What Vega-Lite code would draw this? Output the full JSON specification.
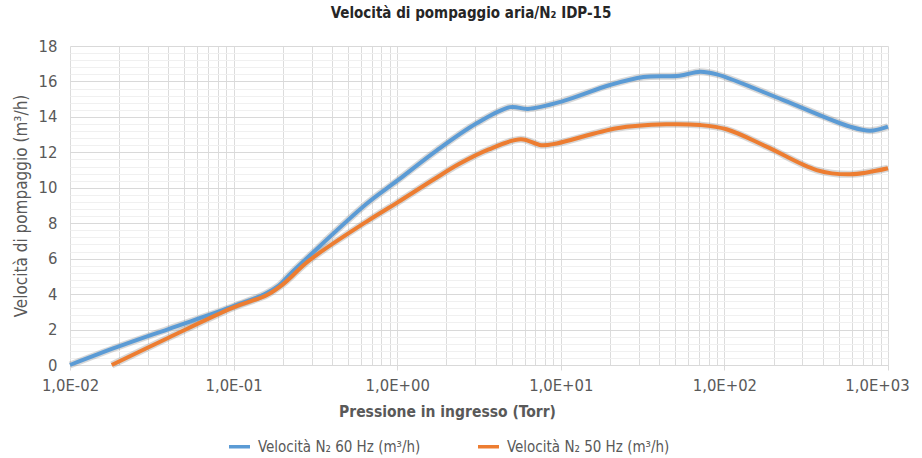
{
  "$schema": "https://vega.github.io/schema/vega-lite/v6.json",
  "width": 818,
  "height": 319,
  "autosize": {"type": "none"},
  "padding": {"left": 70, "top": 46, "right": 34, "bottom": 93},
  "background": "white",
  "config": {
    "font": "DejaVu Sans Condensed, Roboto, sans-serif",
    "view": {"stroke": null}
  },
  "title": {
    "text": "Velocità di pompaggio aria/N₂ IDP-15",
    "font": "DejaVu Sans Condensed, Roboto, sans-serif",
    "fontSize": 15,
    "fontWeight": "bold",
    "color": "#262626",
    "offset": 17,
    "dx": -8
  },
  "data": {
    "values": [
      {"serie": "Velocità N₂ 60 Hz (m³/h)", "pressione": 0.01, "velocita": 0},
      {"serie": "Velocità N₂ 60 Hz (m³/h)", "pressione": 0.0197, "velocita": 1.03},
      {"serie": "Velocità N₂ 60 Hz (m³/h)", "pressione": 0.04, "velocita": 2.03},
      {"serie": "Velocità N₂ 60 Hz (m³/h)", "pressione": 0.1, "velocita": 3.32},
      {"serie": "Velocità N₂ 60 Hz (m³/h)", "pressione": 0.155, "velocita": 4.0},
      {"serie": "Velocità N₂ 60 Hz (m³/h)", "pressione": 0.19, "velocita": 4.5},
      {"serie": "Velocità N₂ 60 Hz (m³/h)", "pressione": 0.22, "velocita": 5.1},
      {"serie": "Velocità N₂ 60 Hz (m³/h)", "pressione": 0.29, "velocita": 6.15},
      {"serie": "Velocità N₂ 60 Hz (m³/h)", "pressione": 0.65, "velocita": 9.1},
      {"serie": "Velocità N₂ 60 Hz (m³/h)", "pressione": 1.0, "velocita": 10.4},
      {"serie": "Velocità N₂ 60 Hz (m³/h)", "pressione": 1.74, "velocita": 12.1},
      {"serie": "Velocità N₂ 60 Hz (m³/h)", "pressione": 3.06, "velocita": 13.64},
      {"serie": "Velocità N₂ 60 Hz (m³/h)", "pressione": 4.9, "velocita": 14.55},
      {"serie": "Velocità N₂ 60 Hz (m³/h)", "pressione": 6.3, "velocita": 14.45},
      {"serie": "Velocità N₂ 60 Hz (m³/h)", "pressione": 10, "velocita": 14.85},
      {"serie": "Velocità N₂ 60 Hz (m³/h)", "pressione": 20, "velocita": 15.8},
      {"serie": "Velocità N₂ 60 Hz (m³/h)", "pressione": 32, "velocita": 16.25},
      {"serie": "Velocità N₂ 60 Hz (m³/h)", "pressione": 53, "velocita": 16.32},
      {"serie": "Velocità N₂ 60 Hz (m³/h)", "pressione": 71, "velocita": 16.55},
      {"serie": "Velocità N₂ 60 Hz (m³/h)", "pressione": 90, "velocita": 16.4},
      {"serie": "Velocità N₂ 60 Hz (m³/h)", "pressione": 229, "velocita": 14.95},
      {"serie": "Velocità N₂ 60 Hz (m³/h)", "pressione": 586, "velocita": 13.45},
      {"serie": "Velocità N₂ 60 Hz (m³/h)", "pressione": 777, "velocita": 13.22},
      {"serie": "Velocità N₂ 60 Hz (m³/h)", "pressione": 1000, "velocita": 13.45},
      {"serie": "Velocità N₂ 50 Hz (m³/h)", "pressione": 0.018, "velocita": 0},
      {"serie": "Velocità N₂ 50 Hz (m³/h)", "pressione": 0.04, "velocita": 1.54},
      {"serie": "Velocità N₂ 50 Hz (m³/h)", "pressione": 0.1, "velocita": 3.25},
      {"serie": "Velocità N₂ 50 Hz (m³/h)", "pressione": 0.16, "velocita": 3.95},
      {"serie": "Velocità N₂ 50 Hz (m³/h)", "pressione": 0.2, "velocita": 4.55},
      {"serie": "Velocità N₂ 50 Hz (m³/h)", "pressione": 0.29, "velocita": 5.9},
      {"serie": "Velocità N₂ 50 Hz (m³/h)", "pressione": 0.65, "velocita": 8.09},
      {"serie": "Velocità N₂ 50 Hz (m³/h)", "pressione": 1.0, "velocita": 9.16},
      {"serie": "Velocità N₂ 50 Hz (m³/h)", "pressione": 1.66, "velocita": 10.45},
      {"serie": "Velocità N₂ 50 Hz (m³/h)", "pressione": 2.4, "velocita": 11.35},
      {"serie": "Velocità N₂ 50 Hz (m³/h)", "pressione": 3.6, "velocita": 12.15},
      {"serie": "Velocità N₂ 50 Hz (m³/h)", "pressione": 5.7, "velocita": 12.74},
      {"serie": "Velocità N₂ 50 Hz (m³/h)", "pressione": 7.6, "velocita": 12.4},
      {"serie": "Velocità N₂ 50 Hz (m³/h)", "pressione": 9.44, "velocita": 12.5},
      {"serie": "Velocità N₂ 50 Hz (m³/h)", "pressione": 22, "velocita": 13.36},
      {"serie": "Velocità N₂ 50 Hz (m³/h)", "pressione": 44, "velocita": 13.58},
      {"serie": "Velocità N₂ 50 Hz (m³/h)", "pressione": 71, "velocita": 13.54},
      {"serie": "Velocità N₂ 50 Hz (m³/h)", "pressione": 103, "velocita": 13.3},
      {"serie": "Velocità N₂ 50 Hz (m³/h)", "pressione": 181, "velocita": 12.32},
      {"serie": "Velocità N₂ 50 Hz (m³/h)", "pressione": 366, "velocita": 11.0},
      {"serie": "Velocità N₂ 50 Hz (m³/h)", "pressione": 586, "velocita": 10.76},
      {"serie": "Velocità N₂ 50 Hz (m³/h)", "pressione": 1000, "velocita": 11.1}
    ]
  },
  "encoding": {
    "x": {
      "field": "pressione",
      "type": "quantitative",
      "scale": {"type": "log", "domain": [0.01, 1000], "nice": false},
      "axis": {
        "title": "Pressione in ingresso (Torr)",
        "titleFontSize": 15.5,
        "titleFontWeight": "bold",
        "titleColor": "#595959",
        "titleX": 377,
        "titleY": 51,
        "titleBaseline": "alphabetic",
        "titleAnchor": null,
        "values": [0.01,0.02,0.03,0.04,0.05,0.06,0.07,0.08,0.09,0.1,0.2,0.3,0.4,0.5,0.6,0.7,0.8,0.9,1,2,3,4,5,6,7,8,9,10,20,30,40,50,60,70,80,90,100,200,300,400,500,600,700,800,900,1000],
        "labelExpr": "abs(log(datum.value)/LN10 - round(log(datum.value)/LN10)) < 0.001 ? '1,0E' + (round(log(datum.value)/LN10) < 0 ? '-' : '+') + '0' + abs(round(log(datum.value)/LN10)) : ''",
        "labelOverlap": false,
        "labelFlush": false,
        "labelFontSize": 16.5,
        "labelColor": "#595959",
        "labelPadding": 7,
        "labelOffset": {"condition": {"test": "datum.value > 500", "value": -11}, "value": 0},
        "tickSize": 5,
        "tickColor": {"condition": {"test": "abs(log(datum.value)/LN10 - round(log(datum.value)/LN10)) < 0.001", "value": "#d9d9d9"}, "value": "transparent"},
        "domainColor": "#d9d9d9",
        "grid": true,
        "gridColor": "#dcdcdc",
        "gridWidth": 1
      }
    },
    "y": {
      "field": "velocita",
      "type": "quantitative",
      "scale": {"domain": [0, 18], "nice": false},
      "axis": {
        "title": "Velocità di pompaggio (m³/h)",
        "titleFontSize": 17,
        "titleFontWeight": "normal",
        "titleColor": "#595959",
        "titleAngle": -90,
        "titleX": -49,
        "titleY": 159.5,
        "titleAlign": "center",
        "titleBaseline": "middle",
        "values": [0,0.4,0.8,1.2,1.6,2,2.4,2.8,3.2,3.6,4,4.4,4.8,5.2,5.6,6,6.4,6.8,7.2,7.6,8,8.4,8.8,9.2,9.6,10,10.4,10.8,11.2,11.6,12,12.4,12.8,13.2,13.6,14,14.4,14.8,15.2,15.6,16,16.4,16.8,17.2,17.6,18],
        "labelExpr": "abs(datum.value/2 - round(datum.value/2)) < 0.001 ? format(datum.value, 'd') : ''",
        "labelOverlap": false,
        "labelFontSize": 16.5,
        "labelColor": "#595959",
        "labelPadding": 13,
        "ticks": false,
        "tickSize": 0,
        "domain": false,
        "grid": true,
        "gridColor": {"condition": {"test": "abs(datum.value/2 - round(datum.value/2)) < 0.001", "value": "#d9d9d9"}, "value": "#f0f0f0"},
        "gridWidth": 1
      }
    }
  },
  "layer": [
    {
      "mark": {"type": "line", "interpolate": "catmull-rom", "stroke": "#7f7f7f", "strokeWidth": 7, "opacity": 0.3},
      "encoding": {"detail": {"field": "serie"}}
    },
    {
      "mark": {"type": "line", "interpolate": "catmull-rom", "strokeWidth": 4},
      "encoding": {
        "color": {
          "field": "serie",
          "type": "nominal",
          "scale": {"domain": ["Velocità N₂ 60 Hz (m³/h)", "Velocità N₂ 50 Hz (m³/h)"], "range": ["#5B9BD5", "#ED7D31"]},
          "legend": {
            "title": null,
            "orient": "none",
            "direction": "horizontal",
            "legendX": 157,
            "legendY": 388,
            "symbolType": "stroke",
            "symbolStrokeWidth": 3.5,
            "symbolSize": 440,
            "labelFontSize": 15,
            "labelColor": "#595959",
            "labelOffset": 6,
            "columnPadding": 50,
            "labelLimit": 300
          }
        }
      }
    }
  ]
}
